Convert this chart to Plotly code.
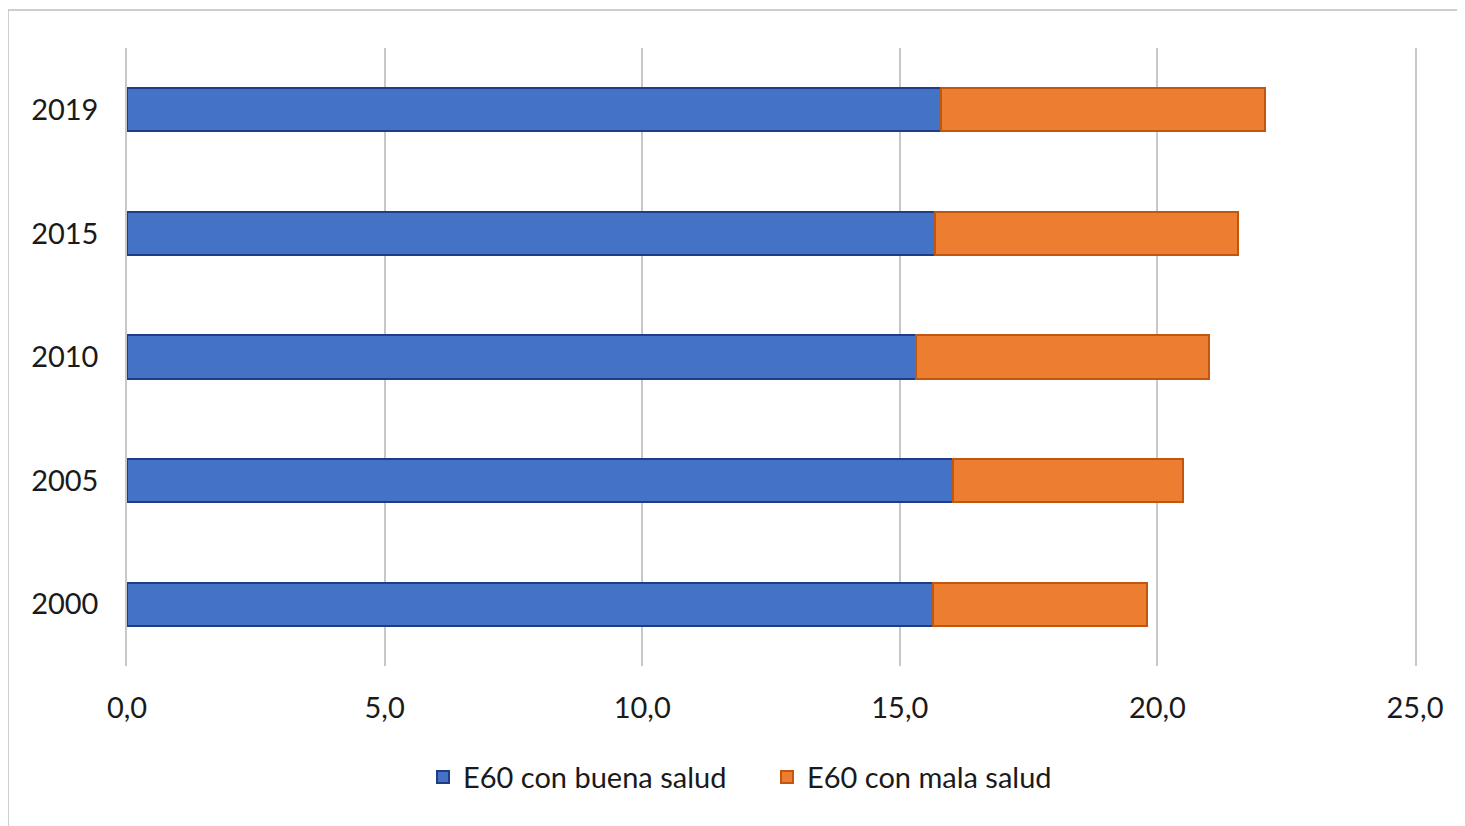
import plotly.graph_objects as go

years = ["2000", "2005", "2010", "2015", "2019"]
buena_salud = [15.64, 16.04, 15.32, 15.68, 15.80]
mala_salud = [4.16, 4.45, 5.69, 5.89, 6.29]
series_names = ["E60 con buena salud", "E60 con mala salud"]
tick_vals = [0, 5, 10, 15, 20, 25]
tick_text = ["0,0", "5,0", "10,0", "15,0", "20,0", "25,0"]

W, H = 1465, 826
L, R, T, B = 119, 58, 40, 168
PW, PH = W - L - R, H - T - B
GRID = "#C8C8C8"

fig = go.Figure()
fig.add_trace(go.Bar(
    y=years, x=buena_salud, orientation="h", name=series_names[0],
    marker=dict(color="#4472C4", line=dict(color="#1F3C88", width=2)),
    width=0.35,
))
fig.add_trace(go.Bar(
    y=years, x=mala_salud, orientation="h", name=series_names[1],
    marker=dict(color="#ED7D31", line=dict(color="#C0560F", width=2)),
    width=0.35,
))

font = "Lato, 'Open Sans', sans-serif"
fig.update_layout(
    width=W, height=H,
    barmode="stack",
    margin=dict(l=L, r=R, t=T, b=B),
    paper_bgcolor="white", plot_bgcolor="white",
    font=dict(family=font, size=29, color="#1A1A1A"),
    xaxis=dict(
        range=[0, 25], tickvals=tick_vals, ticktext=tick_text,
        showgrid=True, gridcolor=GRID, gridwidth=1.5,
        zeroline=False, showline=False, ticks="", ticklabelstandoff=22,
        tickfont=dict(size=29, color="#1A1A1A"),
    ),
    yaxis=dict(
        type="category", categoryorder="array", categoryarray=years,
        range=[-0.5, 4.5], showgrid=False, zeroline=False,
        showline=True, mirror=True, linecolor=GRID, linewidth=1.5,
        ticks="", ticklabelstandoff=21,
        tickfont=dict(size=29, color="#1A1A1A"),
    ),
    legend=dict(
        orientation="h", x=0.2298, xanchor="left", y=-0.18, yanchor="middle",
        font=dict(size=29, color="#1A1A1A"), itemwidth=30, traceorder="normal",
        entrywidthmode="pixels", entrywidth=299,
    ),
    showlegend=True,
    shapes=[dict(
        type="rect", xref="paper", yref="paper",
        x0=-L / PW, x1=1.2, y0=-0.4, y1=1 + 38 / PH,
        line=dict(color="#BFBFBF", width=1.5), fillcolor="rgba(0,0,0,0)", layer="below",
    )],
)

fig.write_html("out.html")
